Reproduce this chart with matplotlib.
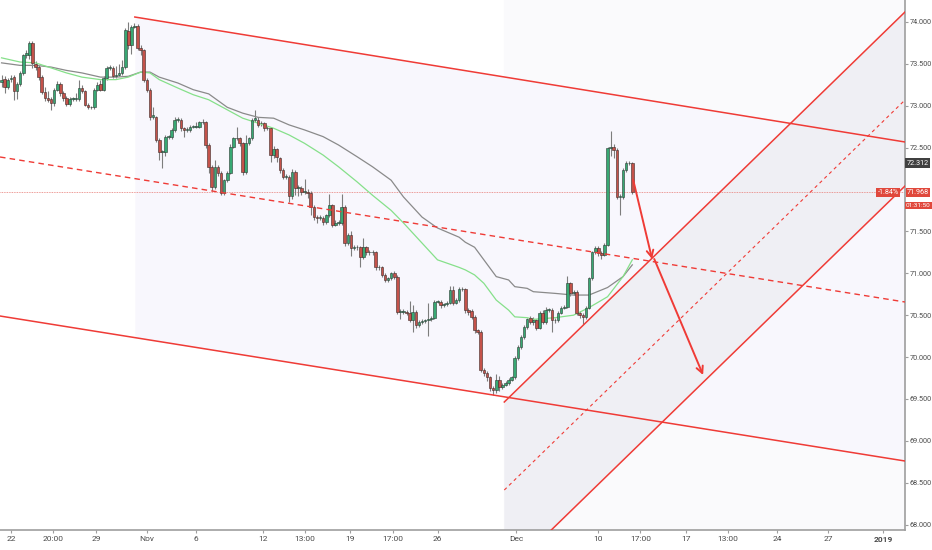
import numpy as np
import matplotlib
matplotlib.use("Agg")
import matplotlib.pyplot as plt
import matplotlib.transforms as mtransforms

plt.rcParams['font.family'] = ['Roboto', 'DejaVu Sans']

# 4h-ish candles
opens = [73.28, 73.32, 73.22, 73.32, 73.34, 73.17, 73.26, 73.39, 73.60, 73.60,
         73.75, 73.50, 73.46, 73.34, 73.16, 73.09, 73.08, 73.03, 73.19, 73.26,
         73.15, 73.09, 73.02, 73.08, 73.08, 73.08, 73.21, 73.17, 73.01, 72.98,
         72.98, 73.19, 73.26, 73.19, 73.33, 73.45, 73.45, 73.35, 73.37, 73.39,
         73.46, 73.89, 73.72, 73.94, 73.95, 73.69, 73.66, 73.31, 73.19, 72.86,
         72.86, 72.59, 72.45, 72.45, 72.63, 72.63, 72.71, 72.83, 72.83, 72.73,
         72.71, 72.71, 72.75, 72.75, 72.75, 72.80, 72.80, 72.53, 72.27, 72.03,
         72.27, 72.20, 71.96, 72.11, 72.20, 72.51, 72.61, 72.61, 72.55, 72.21,
         72.55, 72.61, 72.83, 72.83, 72.79, 72.79, 72.73, 72.73, 72.41, 72.48,
         72.37, 72.23, 72.15, 72.15, 71.92, 72.21, 72.02, 72.02, 71.97, 71.97,
         71.96, 71.79, 71.67, 71.66, 71.66, 71.61, 71.69, 71.81, 71.58, 71.60,
         71.60, 71.79, 71.36, 71.46, 71.30, 71.31, 71.31, 71.19, 71.31, 71.25,
         71.25, 71.25, 71.07, 71.07, 70.98, 70.92, 70.94, 71.00, 70.96, 70.54,
         70.54, 70.54, 70.53, 70.44, 70.54, 70.38, 70.42, 70.43, 70.44, 70.45,
         70.47, 70.66, 70.66, 70.62, 70.63, 70.65, 70.80, 70.65, 70.68, 70.81,
         70.81, 70.56, 70.55, 70.48, 70.32, 70.30, 69.85, 69.81, 69.76, 69.63,
         69.61, 69.73, 69.64, 69.67, 69.69, 69.73, 69.76, 69.99, 70.12, 70.24,
         70.36, 70.47, 70.42, 70.44, 70.35, 70.53, 70.42, 70.56, 70.56, 70.44,
         70.44, 70.53, 70.59, 70.60, 70.88, 70.76, 70.78, 70.53, 70.50, 70.48,
         70.59, 70.94, 71.25, 71.30, 71.24, 71.22, 71.34, 72.49, 72.51, 72.47,
         71.91, 71.91, 72.23, 72.31, 72.31]
closes = [73.31, 73.22, 73.31, 73.32, 73.17, 73.26, 73.39, 73.60, 73.63, 73.75,
          73.51, 73.46, 73.34, 73.16, 73.09, 73.07, 73.03, 73.19, 73.26, 73.15,
          73.09, 73.02, 73.08, 73.08, 73.08, 73.21, 73.17, 73.01, 72.98, 72.98,
          73.19, 73.25, 73.19, 73.33, 73.45, 73.45, 73.35, 73.37, 73.39, 73.46,
          73.90, 73.72, 73.94, 73.95, 73.69, 73.66, 73.31, 73.19, 72.86, 72.89,
          72.59, 72.45, 72.45, 72.63, 72.63, 72.71, 72.83, 72.83, 72.73, 72.71,
          72.71, 72.75, 72.75, 72.75, 72.80, 72.80, 72.53, 72.27, 72.03, 72.27,
          72.20, 71.96, 72.11, 72.20, 72.51, 72.61, 72.61, 72.55, 72.21, 72.55,
          72.61, 72.83, 72.85, 72.77, 72.79, 72.73, 72.73, 72.41, 72.48, 72.39,
          72.23, 72.15, 72.15, 71.92, 72.21, 72.02, 72.02, 71.97, 71.97, 71.96,
          71.79, 71.67, 71.66, 71.66, 71.61, 71.69, 71.81, 71.58, 71.60, 71.60,
          71.79, 71.36, 71.46, 71.30, 71.31, 71.31, 71.19, 71.31, 71.25, 71.25,
          71.25, 71.07, 71.07, 70.98, 70.92, 70.94, 71.00, 70.96, 70.54, 70.54,
          70.54, 70.53, 70.44, 70.54, 70.38, 70.42, 70.43, 70.44, 70.45, 70.47,
          70.66, 70.66, 70.62, 70.63, 70.65, 70.80, 70.65, 70.68, 70.81, 70.81,
          70.56, 70.54, 70.48, 70.32, 70.30, 69.85, 69.81, 69.76, 69.63, 69.61,
          69.73, 69.64, 69.67, 69.69, 69.73, 69.76, 69.99, 70.12, 70.24, 70.36,
          70.45, 70.42, 70.44, 70.35, 70.53, 70.42, 70.56, 70.56, 70.44, 70.44,
          70.53, 70.59, 70.60, 70.88, 70.76, 70.78, 70.53, 70.50, 70.48, 70.59,
          70.94, 71.25, 71.30, 71.24, 71.22, 71.34, 72.49, 72.51, 72.47, 71.91,
          71.91, 72.23, 72.31, 72.31, 71.97]
highs = [73.36, 73.35, 73.33, 73.36, 73.36, 73.28, 73.41, 73.62, 73.66, 73.77,
         73.77, 73.53, 73.48, 73.36, 73.22, 73.17, 73.10, 73.21, 73.29, 73.28,
         73.17, 73.11, 73.10, 73.10, 73.15, 73.30, 73.24, 73.19, 73.03, 73.00,
         73.21, 73.28, 73.30, 73.35, 73.47, 73.48, 73.47, 73.47, 73.50, 73.54,
         73.93, 74.00, 73.96, 73.98, 73.97, 73.72, 73.68, 73.33, 73.21, 72.98,
         72.88, 72.61, 72.47, 72.65, 72.65, 72.73, 72.87, 72.87, 72.85, 72.75,
         72.75, 72.77, 72.77, 72.80, 72.82, 72.84, 72.82, 72.55, 72.29, 72.35,
         72.29, 72.22, 72.13, 72.22, 72.54, 72.63, 72.75, 72.63, 72.57, 72.65,
         72.63, 72.85, 72.95, 72.87, 72.82, 72.81, 72.76, 72.75, 72.52, 72.50,
         72.39, 72.25, 72.18, 72.17, 72.24, 72.23, 72.05, 72.04, 72.12, 72.00,
         71.98, 71.81, 71.69, 71.70, 71.68, 71.71, 71.95, 71.83, 71.63, 71.63,
         71.94, 71.81, 71.48, 71.50, 71.34, 71.34, 71.33, 71.42, 71.33, 71.28,
         71.28, 71.27, 71.10, 71.09, 71.00, 70.96, 71.02, 71.03, 70.98, 70.57,
         70.57, 70.56, 70.67, 70.62, 70.56, 70.44, 70.46, 70.46, 70.65, 70.49,
         70.68, 70.68, 70.68, 70.65, 70.67, 70.85, 70.85, 70.70, 70.84, 70.84,
         70.83, 70.58, 70.57, 70.50, 70.34, 70.32, 69.87, 69.83, 69.78, 69.65,
         69.80, 69.78, 69.69, 69.71, 69.75, 69.78, 70.01, 70.14, 70.26, 70.38,
         70.47, 70.49, 70.48, 70.46, 70.55, 70.56, 70.60, 70.59, 70.58, 70.47,
         70.55, 70.61, 70.62, 70.97, 70.90, 70.80, 70.80, 70.55, 70.52, 70.61,
         70.96, 71.27, 71.32, 71.32, 71.26, 71.36, 72.51, 72.70, 72.54, 72.49,
         71.94, 72.25, 72.34, 72.34, 72.33]
lows = [73.22, 73.15, 73.20, 73.28, 73.07, 73.08, 73.23, 73.37, 73.57, 73.56,
        73.45, 73.43, 73.31, 73.14, 73.05, 73.04, 72.95, 73.00, 73.17, 73.12,
        73.05, 73.00, 73.00, 73.06, 73.06, 73.06, 73.15, 72.99, 72.96, 72.96,
        72.96, 73.17, 73.17, 73.17, 73.31, 73.43, 73.33, 73.33, 73.35, 73.37,
        73.44, 73.68, 73.62, 73.92, 73.66, 73.60, 73.28, 73.16, 72.83, 72.84,
        72.56, 72.35, 72.25, 72.40, 72.60, 72.60, 72.69, 72.80, 72.70, 72.63,
        72.68, 72.69, 72.73, 72.73, 72.73, 72.78, 72.50, 72.20, 71.98, 72.00,
        72.16, 71.93, 71.93, 72.09, 72.18, 72.49, 72.59, 72.52, 72.17, 72.19,
        72.53, 72.59, 72.80, 72.74, 72.76, 72.70, 72.71, 72.33, 72.38, 72.33,
        72.20, 72.12, 72.12, 71.85, 71.88, 71.93, 71.92, 71.93, 71.95, 71.90,
        71.70, 71.64, 71.60, 71.63, 71.58, 71.59, 71.67, 71.55, 71.56, 71.57,
        71.58, 71.33, 71.34, 71.20, 71.28, 71.28, 71.08, 71.17, 71.22, 71.22,
        71.22, 71.04, 71.04, 70.95, 70.89, 70.90, 70.92, 70.93, 70.51, 70.45,
        70.51, 70.50, 70.42, 70.30, 70.35, 70.36, 70.40, 70.41, 70.25, 70.43,
        70.45, 70.64, 70.59, 70.60, 70.61, 70.63, 70.62, 70.63, 70.66, 70.79,
        70.53, 70.50, 70.45, 70.29, 70.27, 69.82, 69.78, 69.72, 69.60, 69.55,
        69.57, 69.60, 69.62, 69.65, 69.67, 69.71, 69.74, 69.97, 70.10, 70.22,
        70.34, 70.39, 70.38, 70.32, 70.33, 70.39, 70.40, 70.54, 70.30, 70.41,
        70.42, 70.51, 70.57, 70.58, 70.73, 70.74, 70.50, 70.47, 70.40, 70.45,
        70.57, 70.92, 71.23, 71.21, 71.17, 71.20, 71.32, 72.40, 72.38, 71.88,
        71.70, 71.88, 72.21, 72.29, 71.95]

# moving averages sampled along the lines
ma_bar = [0, 6, 11, 16, 21, 26, 32, 37, 41, 45, 48, 51, 57, 62, 67, 73, 78, 83, 88, 93, 98,
          104, 109, 115, 120, 126, 130, 136, 141, 148, 150, 153, 156, 160, 164, 166, 170,
          172, 179, 185, 190, 196, 201, 204]
ma_fast = [73.57, 73.52, 73.51, 73.45, 73.39, 73.34, 73.31, 73.31, 73.34, 73.40, 73.39, 73.31,
           73.21, 73.13, 73.07, 72.95, 72.85, 72.79, 72.73, 72.65, 72.55, 72.41, 72.27, 72.09,
           71.93, 71.75, 71.60, 71.36, 71.16, 71.07, 71.04, 70.98, 70.88, 70.68, 70.56, 70.48,
           70.47, 70.45, 70.47, 70.50, 70.59, 70.72, 70.96, 71.16]
ma_slow = [73.51, 73.48, 73.48, 73.46, 73.42, 73.39, 73.34, 73.34, 73.35, 73.40, 73.40, 73.34,
           73.27, 73.19, 73.14, 72.98, 72.91, 72.86, 72.85, 72.77, 72.71, 72.63, 72.53, 72.39,
           72.27, 72.11, 71.91, 71.67, 71.54, 71.43, 71.37, 71.31, 71.16, 70.96, 70.92, 70.84,
           70.82, 70.78, 70.76, 70.74, 70.74, 70.83, 70.96, 71.10]

# drawings: (bar, price) anchors
down_top = [(43.1, 74.057), (292.2, 72.566)]
down_mid = [(-0.5, 72.387), (292.2, 70.657)]
down_bot = [(-0.5, 70.490), (292.2, 68.760)]
up_top = [(162.6, 69.464), (292.2, 74.117)]
up_mid = [(162.6, 68.414), (292.2, 73.067)]
up_bot = [(177.8, 67.937), (292.2, 72.041)]
arrow_1 = [(204.3, 72.113), (210.4, 71.170)]
arrow_2 = [(211.1, 71.170), (226.9, 69.786)]
last_price = 71.968
prev_label = 72.312

tick_bars = [3.1, 16.6, 30.5, 47.0, 62.8, 84.5, 98.0, 112.6, 126.5, 141.0,
             166.5, 193.0, 206.6, 221.4, 235.0, 250.8, 267.3, 285.1]
tick_text = ["22", "20:00", "29", "Nov", "6", "12", "13:00", "19", "17:00", "26",
             "Dec", "10", "17:00", "17", "13:00", "24", "27", "2019"]
price_ticks = [68.0, 68.5, 69.0, 69.5, 70.0, 70.5, 71.0, 71.5, 72.0, 72.5, 73.0, 73.5, 74.0]

RED = '#ef3b36'
XMIN, XMAX = -0.5, 292.2
YMIN, YMAX = 67.937, 74.26
FS = 5.2


def line_at(pts, x):
    (x0, y0), (x1, y1) = pts
    return y0 + (y1 - y0) * (np.asarray(x) - x0) / (x1 - x0)


fig = plt.figure(figsize=(9.32, 5.5), dpi=100)
ax = fig.add_axes([0, 20 / 550, 905 / 932, 530 / 550])
ax.set_xlim(XMIN, XMAX)
ax.set_ylim(YMIN, YMAX)

# channel shading
ax.axvspan(162.6, XMAX, color='#fafafc', zorder=0)
xs = np.array([43.1, XMAX])
ax.fill_between(xs, line_at(down_bot, xs), line_at(down_top, xs), color='#f8f7fd', lw=0, zorder=0)
xs = np.array([162.6, XMAX])
ax.fill_between(xs, line_at(up_bot, xs), line_at(up_top, xs), color='#efeff4', lw=0, zorder=0)

# candles
idx = np.arange(len(closes))
o = np.array(opens)
c = np.array(closes)
up = c >= o
ax.vlines(idx, lows, highs, color='#7d7d7d', lw=0.8, zorder=2)
body_low = np.minimum(o, c)
body_h = np.maximum(np.abs(c - o), 0.008)
ax.bar(idx[up], body_h[up], bottom=body_low[up], width=0.85, color='#38a873',
       edgecolor='#2b3b33', linewidth=0.4, zorder=3)
ax.bar(idx[~up], body_h[~up], bottom=body_low[~up], width=0.85, color='#c4524a',
       edgecolor='#3d2a28', linewidth=0.4, zorder=3)

# moving averages
ax.plot(ma_bar, ma_slow, color='#8a8a8a', lw=0.9, zorder=2.5)
ax.plot(ma_bar, ma_fast, color='#86e08a', lw=0.9, zorder=2.5)

# trend lines
for pts, ls, lw in [(down_top, '-', 1.1), (down_mid, (0, (4, 3)), 1.0), (down_bot, '-', 1.1),
                    (up_top, '-', 1.1), (up_mid, (0, (3, 3)), 0.8), (up_bot, '-', 1.1)]:
    xs = np.array([pts[0][0], XMAX])
    ax.plot(xs, line_at(pts, xs), color=RED, lw=lw, ls=ls, zorder=4)

ax.axhline(last_price, color='#e87a74', lw=0.6, ls=(0, (1, 1)), zorder=1.5)

for a in (arrow_1, arrow_2):
    ax.annotate('', xy=a[1], xytext=a[0],
                arrowprops=dict(arrowstyle='->', color=RED, lw=1.4, mutation_scale=12,
                                shrinkA=0, shrinkB=0), zorder=5)

# axes styling
for s in ['top', 'left']:
    ax.spines[s].set_visible(False)
for s in ['right', 'bottom']:
    ax.spines[s].set_color('#9e9e9e')
    ax.spines[s].set_linewidth(1.2)
ax.yaxis.tick_right()
ax.set_yticks(price_ticks)
# the 72.000 label sits under the last-price tag, so it is not shown
ax.set_yticklabels(["" if p == 72.0 else f"{p:.3f}" for p in price_ticks])
ax.set_xticks(tick_bars)
ax.set_xticklabels(tick_text)
ax.tick_params(axis='both', colors='#9e9e9e', labelcolor='#4a4a4a', labelsize=FS,
               length=2.5, width=0.8, pad=2)
ax.tick_params(axis='x', labelsize=6)
ax.tick_params(axis='y', pad=1)
for lbl in ax.get_xticklabels():
    if lbl.get_text() == "2019":
        lbl.set_fontweight('bold')

# price scale labels
trans = mtransforms.blended_transform_factory(ax.transAxes, ax.transData)
box = dict(boxstyle='square,pad=0.15', fc='#e0483c', ec='none')
ax.text(1.002, prev_label, f"{prev_label:.3f}", transform=trans, ha='left', va='center',
        fontsize=FS, color='white', clip_on=False,
        bbox=dict(boxstyle='square,pad=0.2', fc='#404040', ec='none'))
ax.text(1.002, last_price, f"{last_price:.3f}", transform=trans, ha='left', va='center',
        fontsize=FS, color='white', clip_on=False, bbox=box)
ax.annotate("01:31:50", xy=(1.001, last_price), xycoords=trans, xytext=(0, -9.5),
            textcoords='offset points', ha='left', va='center', fontsize=4.6, color='white',
            annotation_clip=False, bbox=box)
ax.text(0.993, last_price, "-1.84%", transform=trans, ha='right', va='center',
        fontsize=FS, color='white', clip_on=False, zorder=6, bbox=box)

fig.savefig('out.png', dpi=100, facecolor='white')
